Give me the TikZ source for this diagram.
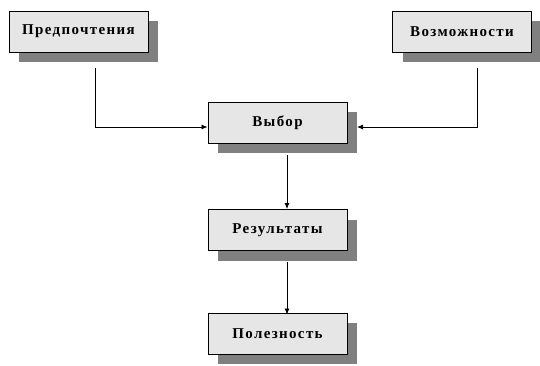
\documentclass[tikz,border=0pt]{standalone}
\usepackage{fontspec}
\setmainfont{Liberation Serif}
\newfontfamily\boxfont[LetterSpace=9]{Liberation Serif}
\usetikzlibrary{arrows.meta}
\definecolor{boxfill}{HTML}{E6E6E6}
\definecolor{shadowgray}{HTML}{808080}
\tikzset{
  blk/.style={draw=black, line width=0.9pt, fill=boxfill, minimum width=139pt, minimum height=41pt,
    inner sep=0pt, font=\boxfont\bfseries\fontsize{15}{17}\selectfont,
    preaction={draw=none, fill=shadowgray, transform canvas={shift={(10pt,-10pt)}}}},
  conn/.style={draw=black, line width=0.8pt, -{Latex[length=6pt,width=5pt]}}
}
\begin{document}
\begin{tikzpicture}[x=1pt,y=-1pt]
\useasboundingbox (0,0) rectangle (540,366);
\node[blk] (pref) at (78.5,31.5) {Предпочтения};
\node[blk] (poss) at (462,31.5) {Возможности};
\node[blk] (choice) at (277.5,122.5) {Выбор};
\node[blk] (res) at (277.5,230) {Результаты};
\node[blk] (util) at (277.5,333.5) {Полезность};
\coordinate (p1) at (95,68);
\coordinate (p2) at (95,127);
\coordinate (q1) at (477,68);
\coordinate (q2) at (477,127);
\coordinate (qe) at (357,127);
\coordinate (c1) at (287,155);
\coordinate (c2) at (287,209);
\coordinate (r1) at (287,262);
\coordinate (r2) at (287,314.5);
\draw[conn] (p1) -- (p2) -- (choice.west |- p2);
\draw[conn] (q1) -- (q2) -- (qe);
\draw[conn] (c1) -- (c2);
\draw[conn] (r1) -- (r2);
\end{tikzpicture}
\end{document}
